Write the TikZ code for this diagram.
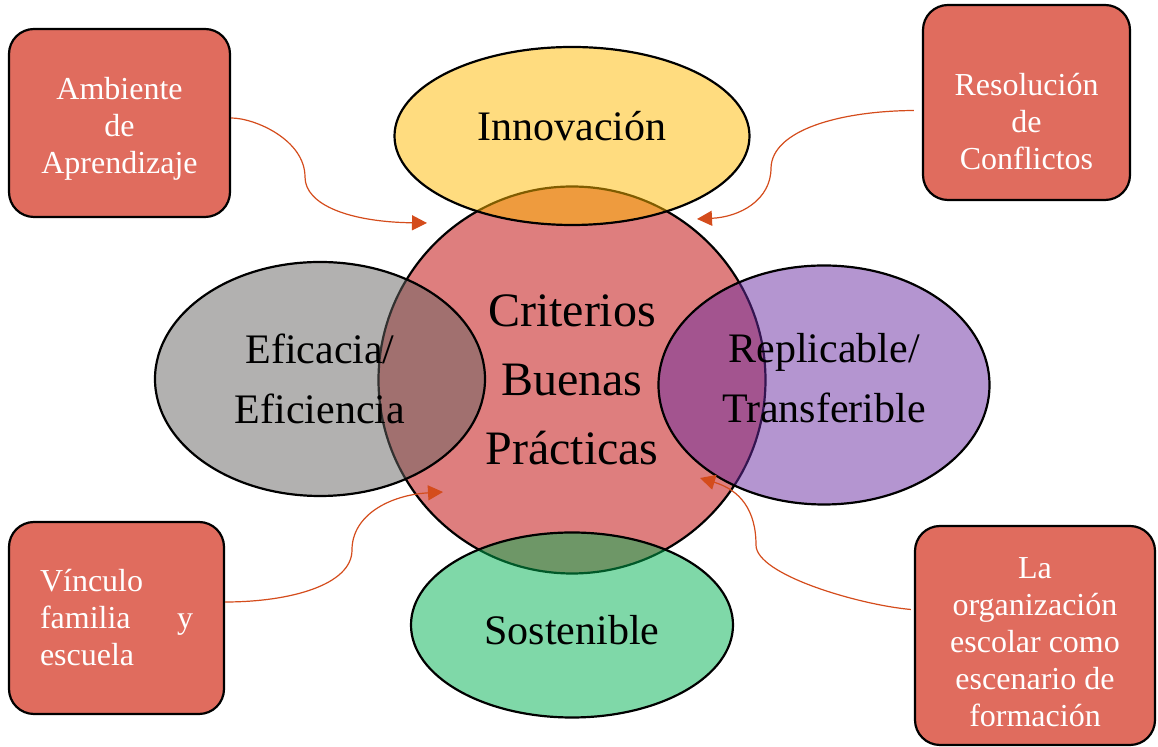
\documentclass[tikz,border=0pt]{standalone}
\usepackage{fontspec}
\setmainfont{Liberation Serif}
\usetikzlibrary{shapes.geometric}
\usetikzlibrary{arrows.meta}

\definecolor{circred}{RGB}{222,126,126}
\definecolor{boxred}{RGB}{224,108,94}
\definecolor{linkred}{RGB}{212,76,28}
\definecolor{ovalyellow}{RGB}{255,185,0}
\definecolor{ovalgray}{RGB}{101,99,97}
\definecolor{ovalpurple}{RGB}{105,43,161}
\definecolor{ovalgreen}{RGB}{0,177,81}

\begin{document}
\begin{tikzpicture}[x=0.5pt, y=-0.5pt,
                    every node/.append style={line width=1.1pt},
                    oval/.style={ellipse, draw=black, inner sep=0pt, fill opacity=0.5, text opacity=1, align=center, font=\fontsize{21}{30}\selectfont},
                    box/.style={rectangle, rounded corners=12.5pt, draw=black, fill=boxred, text=white, align=center, inner sep=0pt, font=\fontsize{16}{18.5}\selectfont},
                    link/.style={draw=linkred, line width=0.6pt, -{Triangle[length=7.5pt, width=7.5pt]}}]
    \useasboundingbox (0,0) rectangle (1158,747);

    % Central circle
    \node [circle, draw, fill=circred, minimum size=193.5pt, inner sep=0pt, align=center, font=\fontsize{24}{34.5}\selectfont] (criterios) at (572,380) {Criterios\\Buenas\\Prácticas};

    % Ovals over the circle
    \node [oval, fill=ovalyellow, minimum width=177.5pt, minimum height=89pt] (innovacion) at (572,136) {Innovación\rule[-10pt]{0pt}{1pt}};
    \node [oval, fill=ovalgray, minimum width=165pt, minimum height=117pt] (eficacia) at (320,379) {Eficacia/\\Eficiencia};
    \node [oval, fill=ovalpurple, minimum width=165.5pt, minimum height=119.5pt] (replicable) at (824,385) {Replicable/\\Transferible\rule[-7pt]{0pt}{1pt}};
    \node [oval, fill=ovalgreen, minimum width=161pt, minimum height=92.5pt] (sostenible) at (572,625) {\rule{0pt}{20pt}Sostenible};

    % Corner boxes
    \node [box, minimum width=110.5pt, minimum height=94pt] (ambiente) at (119.5,123) {\rule{0pt}{17pt}Ambiente\\de\\Aprendizaje};
    \node [box, minimum width=103.5pt, minimum height=97.5pt] (conflictos) at (1026.5,102.5) {\rule{0pt}{30pt}Resolución\\de\\Conflictos};
    \node [box, text width=76.5pt, align=left, minimum width=107.5pt, minimum height=96pt] (vinculo) at (116.5,618) {Vínculo\\\makebox[76.5pt]{familia\hfill y}\\escuela};
    \node [box, minimum width=120pt, minimum height=109.5pt] (organizacion) at (1035,635.5) {\rule{0pt}{17pt}La\\organización\\escolar como\\escenario de\\formación};

    % Arrow ends
    \coordinate (amb_end)  at (427,223);
    \coordinate (conf_end) at (697,219);
    \coordinate (vinc_end) at (443,492);
    \coordinate (org_end)  at (700,478);

    % Draw the arrows
    \draw [link] ([yshift=2.5pt]ambiente.east) .. controls (255,118) and (305,140) .. (305,177) .. controls (305,205) and (350,222) .. (amb_end);
    \draw [link] ([shift={(-4pt,-4pt)}]conflictos.west) .. controls (840,111) and (772,130) .. (771,168) .. controls (771,200) and (740,217) .. (conf_end);
    \draw [link] ([yshift=8pt]vinculo.east) .. controls (290,602) and (352,585) .. (352,550) .. controls (352,515) and (390,495) .. (vinc_end);
    \draw [link] ([shift={(-1.5pt,13pt)}]organizacion.west) .. controls (860,605) and (756,575) .. (756,545) .. controls (756,510) and (740,490) .. (org_end);
\end{tikzpicture}
\end{document}
